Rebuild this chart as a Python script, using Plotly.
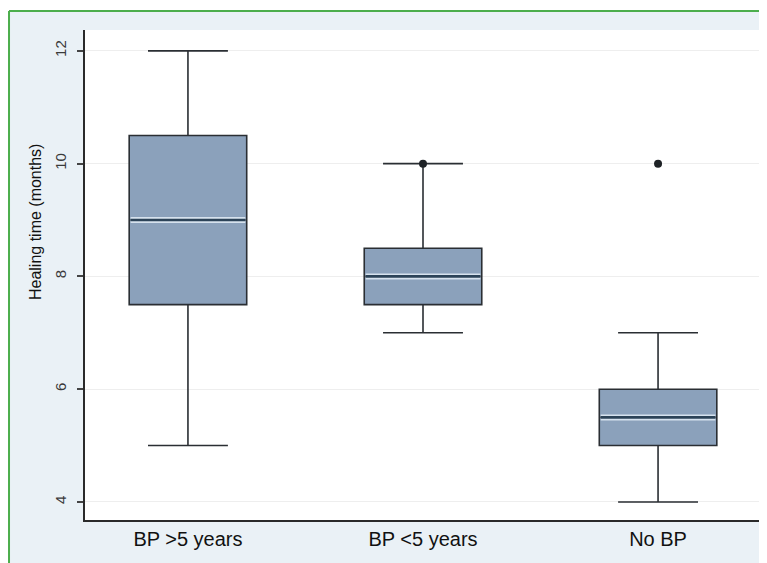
import plotly.graph_objects as go

categories = ["BP >5 years", "BP <5 years", "No BP"]
lower_whisker = [5, 7, 4]
q1 = [7.5, 7.5, 5]
median = [9, 8, 5.5]
q3 = [10.5, 8.5, 6]
upper_whisker = [12, 10, 7]
outlier_group = [1, 2]
outlier_value = [10, 10]
y_ticks = [4, 6, 8, 10, 12]

pos = list(range(len(categories)))
BOX_W = 0.5
FONT = "Liberation Sans, Arial, sans-serif"

fig = go.Figure()
for i, c in enumerate(categories):
    fig.add_trace(go.Box(
        x=[pos[i]], q1=[q1[i]], median=[median[i]], q3=[q3[i]],
        lowerfence=[lower_whisker[i]], upperfence=[upper_whisker[i]],
        width=BOX_W, whiskerwidth=0.68,
        fillcolor="#8ba1bb", line=dict(color="#2a2e33", width=1.6),
        boxpoints=False, showlegend=False, hoverinfo="skip", name=c))

# median highlight (Stata style: dark line with light edges)
for i in range(len(categories)):
    xs = [pos[i] - BOX_W / 2 + 0.006, pos[i] + BOX_W / 2 - 0.006]
    ys = [median[i], median[i]]
    fig.add_trace(go.Scatter(x=xs, y=ys, mode="lines",
                             line=dict(color="#d6e2ee", width=6),
                             showlegend=False, hoverinfo="skip"))
    fig.add_trace(go.Scatter(x=xs, y=ys, mode="lines",
                             line=dict(color="#2c4358", width=2.6),
                             showlegend=False, hoverinfo="skip"))

fig.add_trace(go.Scatter(
    x=[pos[g] for g in outlier_group], y=outlier_value, mode="markers",
    marker=dict(color="#1e2226", size=8), showlegend=False, hoverinfo="skip"))

fig.update_layout(
    width=759, height=555,
    margin=dict(l=77, r=6, t=22, b=43),
    paper_bgcolor="#eaf1f6", plot_bgcolor="white",
    font=dict(family=FONT, color="#222"),
    xaxis=dict(range=[-0.438, 2.438], tickvals=pos, ticktext=categories,
               showgrid=False, zeroline=False, showline=True,
               linecolor="#2a2a2a", linewidth=1.5, ticks="",
               tickfont=dict(size=20, color="#111")),
    yaxis=dict(range=[3.68, 12.37], tickvals=y_ticks,
               showgrid=True, gridcolor="#eeeeee", gridwidth=1,
               zeroline=False, showline=True, linecolor="#2a2a2a",
               linewidth=1.5, ticks="outside", ticklen=6, tickcolor="#444",
               tickwidth=1.5, tickangle=-90, ticklabelstandoff=5,
               tickfont=dict(size=15, color="#3a3a3a")),
    shapes=[
        # white strip above the green frame
        dict(type="rect", xref="paper", yref="paper",
             x0=-0.2, x1=1.1, y0=1.0388, y1=1.2,
             fillcolor="white", line=dict(width=0), layer="below"),
        # green frame (left and top edges)
        dict(type="line", xref="paper", yref="paper",
             x0=-0.1124, x1=-0.1124, y0=-0.12, y1=1.0388,
             line=dict(color="#4cae4c", width=2), layer="below"),
        dict(type="line", xref="paper", yref="paper",
             x0=-0.1124, x1=1.1, y0=1.0388, y1=1.0388,
             line=dict(color="#4cae4c", width=2), layer="below"),
        # light gray edge at right
        dict(type="line", xref="paper", yref="paper",
             x0=1.003, x1=1.003, y0=-0.1, y1=1.0,
             line=dict(color="#d4d8dc", width=2), layer="below"),
    ],
    annotations=[dict(text="Healing time (months)", xref="paper", yref="paper",
                      x=-0.074, y=0.61, xanchor="center", yanchor="middle",
                      textangle=-90, showarrow=False,
                      font=dict(size=16, color="#111"))],
)

fig.write_html("out.html")
